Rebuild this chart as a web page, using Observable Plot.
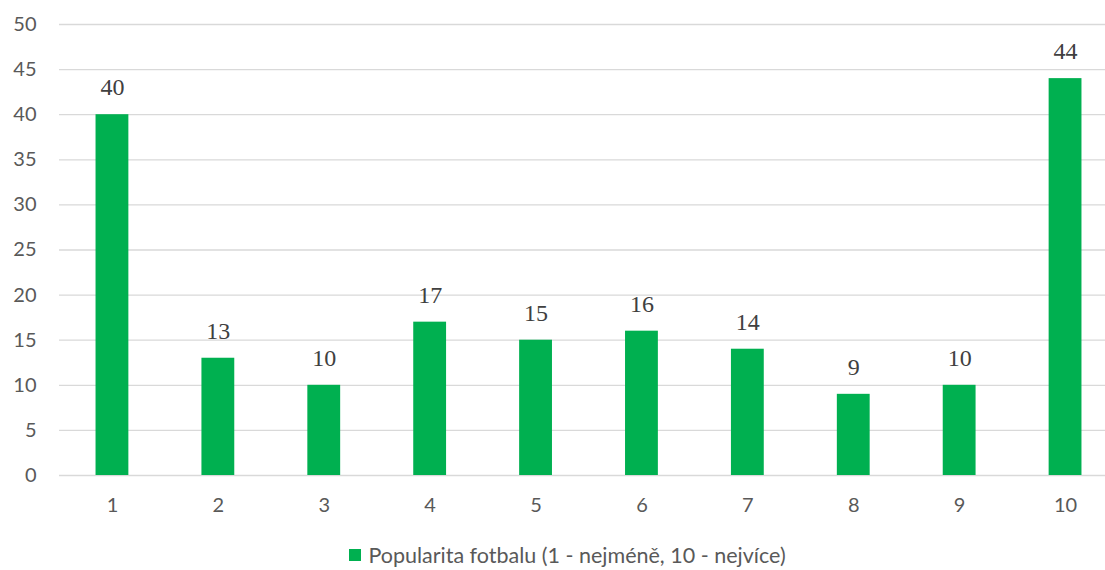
<!DOCTYPE html>
<html>
<head>
<meta charset="utf-8">
<script src="https://cdn.jsdelivr.net/npm/d3@7"></script>
<script src="https://cdn.jsdelivr.net/npm/@observablehq/plot@0.6"></script>
<style>
  html, body { margin: 0; padding: 0; background: #fff; overflow: hidden; }
  #chart { width: 1105px; height: 530px; overflow: hidden; }
  .legend { display: flex; justify-content: center; align-items: center; gap: 7px;
    font-family: Lato, sans-serif; font-size: 21.5px; color: #595959; height: 50px; margin-left: 30px; }
  .legend .sw { width: 12px; height: 12px; background: #00b050; display: inline-block; }
</style>
</head>
<body>
<div id="chart"></div>
<script>
// Rating of football popularity on a 1–10 scale: number of respondents per rating
const ratings = ["1", "2", "3", "4", "5", "6", "7", "8", "9", "10"];
const counts = [40, 13, 10, 17, 15, 16, 14, 9, 10, 44];
const yTicks = [0, 5, 10, 15, 20, 25, 30, 35, 40, 45, 50];
const seriesName = "Popularita fotbalu (1 - nejméně, 10 - nejvíce)";

const data = ratings.map((r, i) => ({rating: r, count: counts[i]}));

const chart = Plot.plot({
  width: 1105,
  height: 530,
  marginLeft: 59,
  marginRight: -13,
  marginTop: 24,
  marginBottom: 55,
  style: {background: "#fff", overflow: "hidden"},
  x: {domain: ratings, paddingInner: 0.69, paddingOuter: 0.345, round: false, label: null},
  y: {domain: [0, 50], ticks: yTicks, label: null},
  marks: [
    Plot.gridY(yTicks, {stroke: "#d9d9d9", strokeOpacity: 1, strokeWidth: 1.3}),
    Plot.barY(data, {x: "rating", y: "count", fill: "#00b050"}),
    Plot.text(data, {x: "rating", y: "count", text: d => String(d.count), dy: -27,
      fontFamily: "Liberation Serif, serif", fontSize: 24, fill: "#404040"}),
    Plot.axisY(yTicks, {tickSize: 0, tickPadding: 0, dx: -23, textAnchor: "end",
      fontFamily: "Lato, sans-serif", fontSize: 20, fill: "#595959", color: "#595959"}),
    Plot.axisX({tickSize: 0, tickPadding: 22,
      fontFamily: "Lato, sans-serif", fontSize: 20, fill: "#595959", color: "#595959"})
  ]
});
document.getElementById("chart").append(chart);

const legend = document.createElement("div");
legend.className = "legend";
legend.innerHTML = `<span class="sw"></span><span>${seriesName}</span>`;
document.body.append(legend);
</script>
</body>
</html>
